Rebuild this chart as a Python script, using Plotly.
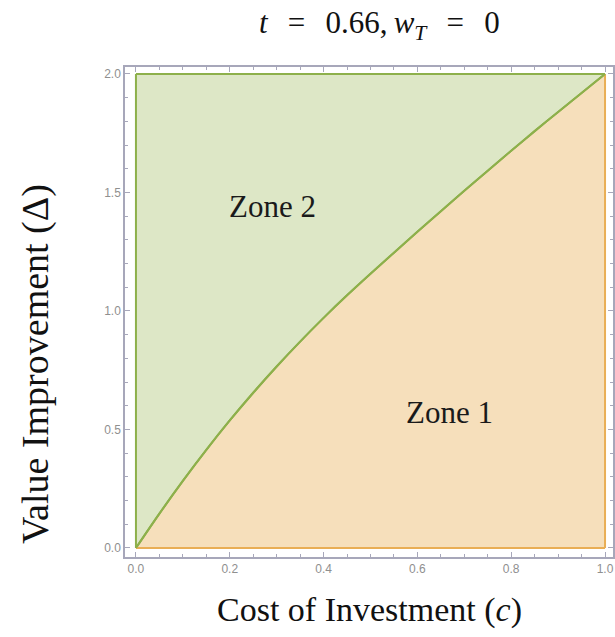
import plotly.graph_objects as go

# Boundary between the two zones: value improvement needed at each investment cost
cost = [0, 0.05, 0.1, 0.15, 0.2, 0.25, 0.3, 0.35, 0.4, 0.45, 0.5,
        0.55, 0.6, 0.65, 0.7, 0.75, 0.8, 0.85, 0.9, 0.95, 1.0]
delta = [0, 0.145, 0.283, 0.414, 0.538, 0.655, 0.766, 0.871, 0.971, 1.066, 1.157,
         1.246, 1.334, 1.421, 1.507, 1.592, 1.676, 1.759, 1.840, 1.920, 2.0]

c_min, c_max = 0.0, 1.0
d_min, d_max = 0.0, 2.0

x_ticks = [0.0, 0.2, 0.4, 0.6, 0.8, 1.0]
y_ticks = [0.0, 0.5, 1.0, 1.5, 2.0]

zone_labels = ["Zone 2", "Zone 1"]
zone_pos = [(0.291, 1.44), (0.669, 0.57)]

GREEN_FILL = "#DDE7C6"
GREEN_LINE = "#8DB04B"
ORANGE_FILL = "#F6DFBB"
ORANGE_LINE = "#E9AE55"
FRAME = "#A7A7BA"
SERIF = "Liberation Serif, Times New Roman, serif"


def edge(xs, ys, color):
    return go.Scatter(x=xs, y=ys, mode="lines", line=dict(color=color, width=2),
                      hoverinfo="skip", showlegend=False)


fig = go.Figure()

# Zone 1: area under the boundary curve
fig.add_trace(go.Scatter(
    x=cost, y=delta, fill="tozeroy", fillcolor=ORANGE_FILL,
    mode="lines", line=dict(color=GREEN_LINE, width=2, shape="spline", smoothing=0.8),
    hoverinfo="skip", showlegend=False,
))

# Zone 2: area between the boundary curve and the top of the range
fig.add_trace(go.Scatter(
    x=[c_min, c_max], y=[d_max, d_max], fill="tonexty", fillcolor=GREEN_FILL,
    mode="lines", line=dict(color=GREEN_LINE, width=2),
    hoverinfo="skip", showlegend=False,
))

# Region outlines
fig.add_trace(edge([c_min, c_max], [d_min, d_min], ORANGE_LINE))
fig.add_trace(edge([c_max, c_max], [d_min, d_max], ORANGE_LINE))
fig.add_trace(edge([c_min, c_min], [d_min, d_max], GREEN_LINE))
fig.add_trace(go.Scatter(
    x=cost, y=delta, mode="lines",
    line=dict(color=GREEN_LINE, width=2, shape="spline", smoothing=0.8),
    hoverinfo="skip", showlegend=False,
))

for text, (cx, cy) in zip(zone_labels, zone_pos):
    fig.add_annotation(x=cx, y=cy, text=text, showarrow=False,
                       xanchor="center", yanchor="middle",
                       font=dict(family=SERIF, size=31, color="#1a1a1a"))

# Title and axis titles
fig.add_annotation(xref="paper", yref="paper", x=0.522, y=1.086,
                   xanchor="center", yanchor="middle",
                   text="<i>t</i>\u2009\u2009 = \u2009\u20090.66,\u2009<i>w</i><sub><i>T</i></sub>\u2009\u2009 = \u2009\u20090",
                   showarrow=False, font=dict(family=SERIF, size=31, color="#111"))
fig.add_annotation(xref="paper", yref="paper", x=0.5, y=-0.108,
                   xanchor="center", yanchor="middle",
                   text="Cost of Investment (<i>c</i>)",
                   showarrow=False, font=dict(family=SERIF, size=34, color="#111"))
fig.add_annotation(xref="paper", yref="paper", x=-0.182, y=0.394,
                   xanchor="center", yanchor="middle",
                   text="Value Improvement (Δ)", textangle=-90,
                   showarrow=False, font=dict(family=SERIF, size=38, color="#111"))

axis_common = dict(
    showline=True, linecolor=FRAME, linewidth=1.5, mirror="allticks",
    ticks="inside", ticklen=5, tickcolor=FRAME, tickwidth=1,
    showgrid=False, zeroline=False,
    tickfont=dict(family="Liberation Sans, Arial, sans-serif", size=12, color="#8f8f8f"),
    tickformat=".1f",
)

fig.update_xaxes(range=[-0.02335, 1.017], tickvals=x_ticks,
                 minor=dict(ticks="inside", dtick=0.05, tick0=0, ticklen=3, tickcolor=FRAME),
                 **axis_common)
fig.update_yaxes(range=[-0.038, 2.0295], tickvals=y_ticks,
                 minor=dict(ticks="inside", dtick=0.1, tick0=0, ticklen=3, tickcolor=FRAME),
                 **axis_common)

fig.update_layout(
    width=615, height=637,
    margin=dict(l=125, r=0, t=67, b=80),
    paper_bgcolor="white", plot_bgcolor="white",
)

fig.write_html("out.html")
